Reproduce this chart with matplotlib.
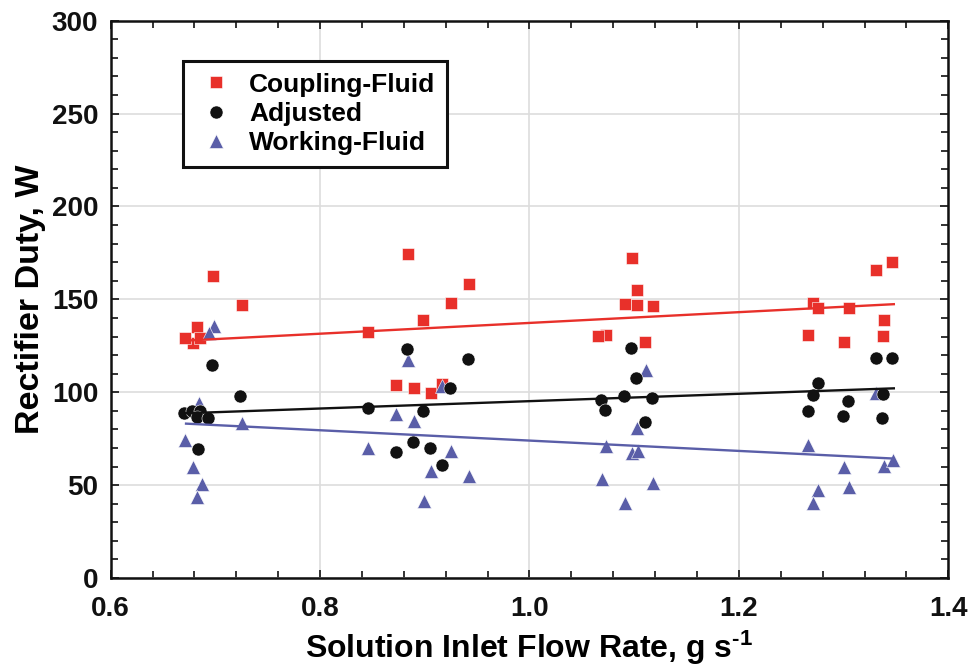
import matplotlib
matplotlib.use("Agg")
import matplotlib.pyplot as plt
from matplotlib.ticker import MultipleLocator

# ---------------- data ----------------
cf_x = [0.679, 1.271, 0.671, 0.682, 0.685, 0.698, 0.725, 0.846, 0.884, 0.925, 0.898,
        0.873, 0.890, 0.906, 0.942, 0.916, 1.098, 1.103, 1.091, 1.103, 1.118,
        1.073, 1.065, 1.110, 1.331, 1.346, 1.276, 1.305, 1.339, 1.266,
        1.338, 1.300]
cf_y = [126.3, 148.2, 129.0, 135.3, 129.0, 162.7, 146.9, 132.2, 174.4, 148.2, 138.9,
        103.7, 102.4, 99.7, 158.2, 104.3, 172.1, 155.2, 147.5, 147.1, 146.4,
        130.6, 130.2, 126.9, 165.8, 170.2, 145.5, 145.2, 138.9, 130.9,
        130.4, 126.9]

adj_x = [0.697, 0.724, 0.670, 0.678, 0.685, 0.682, 0.693, 0.683, 0.846, 0.883, 0.924,
         0.898, 0.873, 0.889, 0.905, 0.916, 0.941, 1.097, 1.102, 1.068, 1.090,
         1.117, 1.072, 1.110, 1.331, 1.346, 1.276, 1.271, 1.304, 1.338, 1.266,
         1.299, 1.337]
adj_y = [114.5, 98.0, 88.6, 90.1, 90.1, 86.8, 86.3, 69.6, 91.3, 123.1, 102.3,
         89.9, 67.7, 73.0, 69.8, 60.8, 117.7, 123.6, 107.5, 95.8, 98.1,
         96.7, 90.4, 84.1, 118.6, 118.6, 105.1, 98.5, 95.4, 99.0, 89.9,
         87.4, 86.0]

wf_x = [0.699, 0.694, 0.684, 0.725, 0.671, 0.679, 0.687, 0.682, 0.884, 0.873, 0.890,
        0.846, 0.925, 0.906, 0.899, 0.916, 0.942, 1.111, 1.103, 1.073, 1.098,
        1.104, 1.069, 1.118, 1.091, 1.331, 1.266, 1.300, 1.339, 1.347, 1.276,
        1.305, 1.271]
wf_y = [135.6, 131.7, 94.4, 83.6, 74.3, 59.9, 50.6, 43.4, 117.3, 88.1, 84.5,
        70.1, 68.4, 57.6, 41.6, 103.3, 54.9, 111.9, 80.6, 71.0, 67.1,
        68.5, 53.1, 51.0, 40.5, 99.7, 71.6, 59.9, 60.3, 63.5, 47.4,
        48.8, 40.5]

fit_x = [0.672, 1.348]
cf_fit = [127.8, 147.4]
adj_fit = [88.7, 102.1]
wf_fit = [83.1, 64.3]

x_ticks = [0.6, 0.8, 1.0, 1.2, 1.4]
x_ticklabels = ["0.6", "0.8", "1.0", "1.2", "1.4"]
y_ticks = [0, 50, 100, 150, 200, 250, 300]

RED = "#E8302A"
BLACK = "#111111"
BLUE = "#5A5EA8"

plt.rcParams['font.family'] = ['Liberation Sans', 'DejaVu Sans']
plt.rcParams['font.weight'] = 'bold'
plt.rcParams['mathtext.fontset'] = 'custom'
plt.rcParams['mathtext.rm'] = 'Liberation Sans:bold'
plt.rcParams['mathtext.bf'] = 'Liberation Sans:bold'
plt.rcParams['mathtext.it'] = 'Liberation Sans:bold'

fig = plt.figure(figsize=(9.69, 6.70), dpi=100)
ax = fig.add_axes([0.1142, 0.1373, 0.9786 - 0.1142, 0.9691 - 0.1373])

ax.plot(cf_x, cf_y, ls='none', marker='s', ms=8.6, color=RED, mec='white', mew=0.4,
        label='Coupling-Fluid', zorder=3)
ax.plot(wf_x, wf_y, ls='none', marker='^', ms=10.5, color=BLUE, mec='white', mew=0.4,
        label='Working-Fluid', zorder=4)
ax.plot(adj_x, adj_y, ls='none', marker='o', ms=9.4, color=BLACK, mec='white', mew=0.4,
        label='Adjusted', zorder=5)

ax.plot(fit_x, cf_fit, color=RED, lw=1.7, zorder=6)
ax.plot(fit_x, adj_fit, color=BLACK, lw=1.7, zorder=6)
ax.plot(fit_x, wf_fit, color=BLUE, lw=1.7, zorder=6)

ax.set_xlim(0.6, 1.4)
ax.set_ylim(0, 300)
ax.set_xticks(x_ticks)
ax.set_xticklabels(x_ticklabels)
ax.set_yticks(y_ticks)
ax.xaxis.set_minor_locator(MultipleLocator(0.04))
ax.yaxis.set_minor_locator(MultipleLocator(10))

ax.grid(True, which='major', color='#DDDDDD', lw=1.2, zorder=0)
ax.set_axisbelow(True)

for s in ax.spines.values():
    s.set_linewidth(1.8)
    s.set_color('#111111')

ax.tick_params(which='both', direction='in', top=True, right=True, colors='#111111',
               labelsize=20, width=1.2)
ax.tick_params(which='major', length=6)
ax.tick_params(axis='x', which='major', pad=13)
ax.tick_params(axis='y', which='major', pad=9)
ax.tick_params(which='minor', length=5)
for lab in ax.get_xticklabels() + ax.get_yticklabels():
    lab.set_fontweight('bold')

ax.set_xlabel(r'Solution Inlet Flow Rate, g s$^{\text{-1}}$', fontsize=23,
              fontweight='bold', labelpad=4.5)
ax.set_ylabel('Rectifier Duty, W', fontsize=24.5, fontweight='bold', labelpad=4)

handles, labels = ax.get_legend_handles_labels()
order = [0, 2, 1]
leg = ax.legend([handles[i] for i in order], [labels[i] for i in order],
                loc='upper left', bbox_to_anchor=(0.0867, 0.9282), borderaxespad=0,
                numpoints=1, handlelength=1.6, handletextpad=0.45,
                borderpad=0.45, labelspacing=0.2, fancybox=False, framealpha=1,
                edgecolor='#111111', prop={'weight': 'bold', 'size': 19})
leg.get_frame().set_linewidth(2.2)

fig.savefig('out.png', dpi=100)
